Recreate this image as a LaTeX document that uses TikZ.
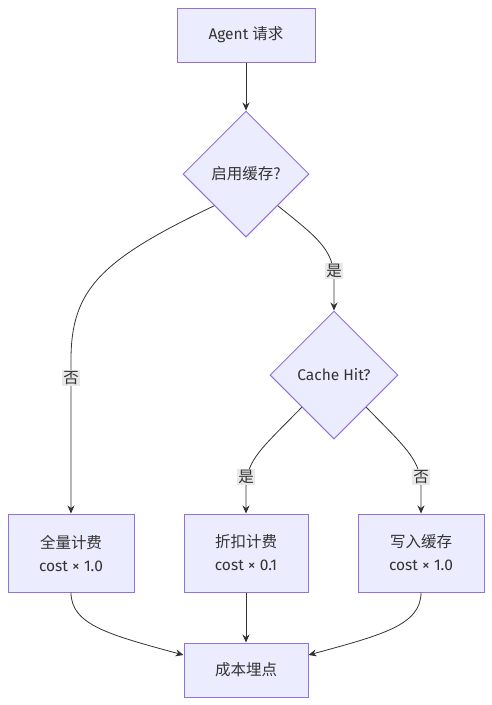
\documentclass[tikz,border=0pt]{standalone}
\usepackage{fontspec}
\setmainfont{Fira Sans}
\newfontfamily\cjk{Noto Sans CJK SC}
\usetikzlibrary{shapes.geometric,arrows.meta}
\definecolor{nodefill}{HTML}{ECECFF}
\definecolor{nodeline}{HTML}{9370DB}
\definecolor{edgecol}{HTML}{333333}
\definecolor{lblbg}{HTML}{E8E8E8}
\begin{document}
\begin{tikzpicture}[x=1pt,y=-1pt,
  every node/.style={font=\fontsize{15.5}{23}\selectfont, text=edgecol},
  boxnode/.style={draw=nodeline, fill=nodefill, line width=1pt, minimum height=54pt, align=center, inner sep=0pt},
  decision/.style={diamond, aspect=1, draw=nodeline, fill=nodefill, line width=1pt, minimum width=126pt, minimum height=126pt, inner sep=0pt},
  conn/.style={draw=edgecol, line width=0.8pt, -{Stealth[length=8pt,width=7pt]}},
  lbl/.style={fill=lblbg, inner sep=1.5pt, font=\fontsize{15.5}{17}\selectfont\cjk}]
\useasboundingbox (0,0) rectangle (492,705);
\node[boxnode, minimum width=138pt] (agent) at (246,35) {Agent {\cjk 请求}};
\node[decision] (d1) at (246,174) {\cjk 启用缓存?};
\node[decision, minimum width=128pt, minimum height=128pt] (d2) at (334,375) {Cache Hit?};
\node[boxnode, minimum width=126pt, minimum height=78pt] (full) at (71,553) {{\cjk 全量计费}\\cost × 1.0};
\node[boxnode, minimum width=124pt, minimum height=78pt] (disc) at (246,553) {{\cjk 折扣计费}\\cost × 0.1};
\node[boxnode, minimum width=126pt, minimum height=78pt] (write) at (421,553) {{\cjk 写入缓存}\\cost × 1.0};
\node[boxnode, minimum width=124pt] (cost) at (246,670) {\cjk 成本埋点};

\draw[conn] (agent) -- (d1);
\draw[conn] (d1.south west) .. controls (100,260) and (71,290) .. (71,360) -- (full.north);
\node[lbl] (l1) at (71,378) {否};
\draw[conn] (d1.south east) .. controls (318,238) and (334,250) .. (334,280) -- (d2.north);
\node[lbl] (l2) at (334,271) {是};
\draw[conn] (d2.south west) .. controls (262,448) and (246,460) .. (246,488) -- (disc.north);
\node[lbl] (l3) at (246,477) {是};
\draw[conn] (d2.south east) .. controls (406,448) and (421,460) .. (421,488) -- (write.north);
\node[lbl] (l4) at (421,477) {否};
\draw[conn] (full.south) .. controls (71,625) and (110,635) .. (cost.west |- 0,655);
\draw[conn] (disc) -- (cost);
\draw[conn] (write.south) .. controls (421,625) and (382,635) .. (cost.east |- 0,655);
\end{tikzpicture}
\end{document}
